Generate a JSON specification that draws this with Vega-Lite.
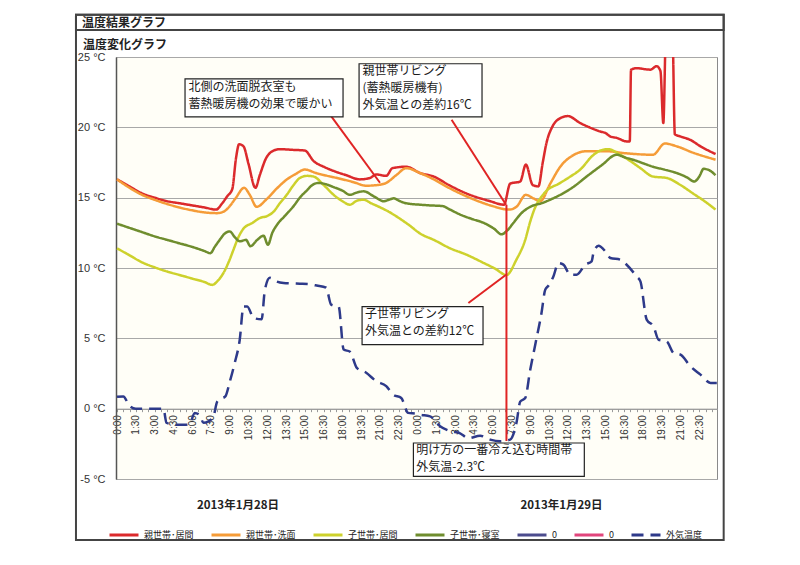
{
  "$schema": "https://vega.github.io/schema/vega-lite/v6.json",
  "width": 601,
  "height": 422,
  "autosize": "none",
  "padding": {"left": 116, "top": 57, "right": 83, "bottom": 86},
  "background": "white",
  "config": {
    "view": {"fill": "#fffef7", "stroke": "#8a8a8a", "strokeWidth": 1}
  },
  "datasets": {
    "frame": [
      {"h": -3.28, "h2": 48.45, "t": 28.0, "t2": -9.33},
      {"h": -3.28, "h2": 48.45, "t": 28.0, "t2": 26.92}
    ],
    "heads": [
      {"h": -2.8, "t": 27.45, "label": "温度結果グラフ"},
      {"h": -2.72, "t": 25.85, "label": "温度変化グラフ"}
    ],
    "series": [
      {"s": "親世帯・居間", "h": 0, "t": 16.3},
      {"s": "親世帯・居間", "h": 1, "t": 15.8},
      {"s": "親世帯・居間", "h": 2, "t": 15.3},
      {"s": "親世帯・居間", "h": 3, "t": 15.0},
      {"s": "親世帯・居間", "h": 4, "t": 14.75},
      {"s": "親世帯・居間", "h": 5, "t": 14.6},
      {"s": "親世帯・居間", "h": 6, "t": 14.45},
      {"s": "親世帯・居間", "h": 7, "t": 14.3},
      {"s": "親世帯・居間", "h": 7.9, "t": 14.15},
      {"s": "親世帯・居間", "h": 8.4, "t": 14.6},
      {"s": "親世帯・居間", "h": 8.8, "t": 15.1},
      {"s": "親世帯・居間", "h": 9.2, "t": 15.6},
      {"s": "親世帯・居間", "h": 9.5, "t": 17.8},
      {"s": "親世帯・居間", "h": 9.75, "t": 18.8},
      {"s": "親世帯・居間", "h": 10.1, "t": 18.65},
      {"s": "親世帯・居間", "h": 10.5, "t": 17.4},
      {"s": "親世帯・居間", "h": 11.05, "t": 15.7},
      {"s": "親世帯・居間", "h": 11.4, "t": 16.6},
      {"s": "親世帯・居間", "h": 11.9, "t": 17.8},
      {"s": "親世帯・居間", "h": 12.4, "t": 18.3},
      {"s": "親世帯・居間", "h": 13.0, "t": 18.45},
      {"s": "親世帯・居間", "h": 14.0, "t": 18.4},
      {"s": "親世帯・居間", "h": 15.0, "t": 18.35},
      {"s": "親世帯・居間", "h": 15.7, "t": 17.6},
      {"s": "親世帯・居間", "h": 16.5, "t": 17.2},
      {"s": "親世帯・居間", "h": 17.3, "t": 16.9},
      {"s": "親世帯・居間", "h": 18.3, "t": 16.6},
      {"s": "親世帯・居間", "h": 19.4, "t": 16.3},
      {"s": "親世帯・居間", "h": 20.2, "t": 16.4},
      {"s": "親世帯・居間", "h": 20.7, "t": 16.65},
      {"s": "親世帯・居間", "h": 21.5, "t": 16.55},
      {"s": "親世帯・居間", "h": 22.0, "t": 17.1},
      {"s": "親世帯・居間", "h": 23.1, "t": 17.2},
      {"s": "親世帯・居間", "h": 24.2, "t": 16.75},
      {"s": "親世帯・居間", "h": 25.3, "t": 16.5},
      {"s": "親世帯・居間", "h": 26.5, "t": 15.9},
      {"s": "親世帯・居間", "h": 27.9, "t": 15.3},
      {"s": "親世帯・居間", "h": 29.8, "t": 14.75},
      {"s": "親世帯・居間", "h": 30.9, "t": 14.5},
      {"s": "親世帯・居間", "h": 31.4, "t": 16.0},
      {"s": "親世帯・居間", "h": 32.2, "t": 16.15},
      {"s": "親世帯・居間", "h": 32.65, "t": 17.35},
      {"s": "親世帯・居間", "h": 33.2, "t": 15.9},
      {"s": "親世帯・居間", "h": 33.65, "t": 15.8},
      {"s": "親世帯・居間", "h": 34.0, "t": 17.5},
      {"s": "親世帯・居間", "h": 34.3, "t": 18.9},
      {"s": "親世帯・居間", "h": 34.8, "t": 20.1},
      {"s": "親世帯・居間", "h": 35.4, "t": 20.65},
      {"s": "親世帯・居間", "h": 36.0, "t": 20.8},
      {"s": "親世帯・居間", "h": 37.0, "t": 20.3},
      {"s": "親世帯・居間", "h": 38.0, "t": 19.9},
      {"s": "親世帯・居間", "h": 38.6, "t": 19.7},
      {"s": "親世帯・居間", "h": 39.0, "t": 19.6},
      {"s": "親世帯・居間", "h": 39.4, "t": 19.35},
      {"s": "親世帯・居間", "h": 39.9, "t": 19.25},
      {"s": "親世帯・居間", "h": 40.7, "t": 19.0},
      {"s": "親世帯・居間", "h": 40.95, "t": 19.0},
      {"s": "親世帯・居間", "h": 41.05, "t": 24.1},
      {"s": "親世帯・居間", "h": 41.5, "t": 24.2},
      {"s": "親世帯・居間", "h": 42.6, "t": 24.1},
      {"s": "親世帯・居間", "h": 43.1, "t": 24.35},
      {"s": "親世帯・居間", "h": 43.4, "t": 24.0},
      {"s": "親世帯・居間", "h": 43.63, "t": 20.3},
      {"s": "親世帯・居間", "h": 43.85, "t": 27},
      {"s": "親世帯・居間", "h": 44.35, "t": 27},
      {"s": "親世帯・居間", "h": 44.55, "t": 19.5},
      {"s": "親世帯・居間", "h": 45.0, "t": 19.35},
      {"s": "親世帯・居間", "h": 45.8, "t": 19.1},
      {"s": "親世帯・居間", "h": 46.6, "t": 18.65},
      {"s": "親世帯・居間", "h": 47.8, "t": 18.1},

      {"s": "親世帯・洗面", "h": 0, "t": 16.3},
      {"s": "親世帯・洗面", "h": 1, "t": 15.7},
      {"s": "親世帯・洗面", "h": 2, "t": 15.2},
      {"s": "親世帯・洗面", "h": 3, "t": 14.85},
      {"s": "親世帯・洗面", "h": 4, "t": 14.55},
      {"s": "親世帯・洗面", "h": 5, "t": 14.3},
      {"s": "親世帯・洗面", "h": 6, "t": 14.1},
      {"s": "親世帯・洗面", "h": 7, "t": 13.95},
      {"s": "親世帯・洗面", "h": 8, "t": 13.9},
      {"s": "親世帯・洗面", "h": 8.6, "t": 14.05},
      {"s": "親世帯・洗面", "h": 9.0, "t": 14.4},
      {"s": "親世帯・洗面", "h": 9.5, "t": 15.0},
      {"s": "親世帯・洗面", "h": 10.15, "t": 15.7},
      {"s": "親世帯・洗面", "h": 10.6, "t": 15.2},
      {"s": "親世帯・洗面", "h": 11.15, "t": 14.35},
      {"s": "親世帯・洗面", "h": 11.9, "t": 14.85},
      {"s": "親世帯・洗面", "h": 12.7, "t": 15.6},
      {"s": "親世帯・洗面", "h": 13.5, "t": 16.25},
      {"s": "親世帯・洗面", "h": 14.3, "t": 16.7},
      {"s": "親世帯・洗面", "h": 15.0, "t": 17.0},
      {"s": "親世帯・洗面", "h": 15.9, "t": 16.75},
      {"s": "親世帯・洗面", "h": 16.8, "t": 16.55},
      {"s": "親世帯・洗面", "h": 17.8, "t": 16.35},
      {"s": "親世帯・洗面", "h": 18.9, "t": 16.1},
      {"s": "親世帯・洗面", "h": 19.9, "t": 15.85},
      {"s": "親世帯・洗面", "h": 20.8, "t": 15.9},
      {"s": "親世帯・洗面", "h": 21.5, "t": 16.05},
      {"s": "親世帯・洗面", "h": 22.3, "t": 16.6},
      {"s": "親世帯・洗面", "h": 23.1, "t": 17.1},
      {"s": "親世帯・洗面", "h": 24.2, "t": 16.75},
      {"s": "親世帯・洗面", "h": 25.3, "t": 16.3},
      {"s": "親世帯・洗面", "h": 26.5, "t": 15.7},
      {"s": "親世帯・洗面", "h": 27.9, "t": 15.1},
      {"s": "親世帯・洗面", "h": 29.0, "t": 14.7},
      {"s": "親世帯・洗面", "h": 30.0, "t": 14.4},
      {"s": "親世帯・洗面", "h": 31.3, "t": 14.15},
      {"s": "親世帯・洗面", "h": 31.9, "t": 14.35},
      {"s": "親世帯・洗面", "h": 32.65, "t": 15.2},
      {"s": "親世帯・洗面", "h": 33.25, "t": 14.95},
      {"s": "親世帯・洗面", "h": 33.8, "t": 14.75},
      {"s": "親世帯・洗面", "h": 34.6, "t": 16.0},
      {"s": "親世帯・洗面", "h": 35.4, "t": 17.2},
      {"s": "親世帯・洗面", "h": 36.4, "t": 18.0},
      {"s": "親世帯・洗面", "h": 37.5, "t": 18.3},
      {"s": "親世帯・洗面", "h": 39.1, "t": 18.3},
      {"s": "親世帯・洗面", "h": 40.7, "t": 18.15},
      {"s": "親世帯・洗面", "h": 42.8, "t": 18.05},
      {"s": "親世帯・洗面", "h": 43.75, "t": 18.85},
      {"s": "親世帯・洗面", "h": 44.7, "t": 18.65},
      {"s": "親世帯・洗面", "h": 46.0, "t": 18.2},
      {"s": "親世帯・洗面", "h": 47.8, "t": 17.7},

      {"s": "子世帯・居間", "h": 0, "t": 11.4},
      {"s": "子世帯・居間", "h": 1, "t": 10.9},
      {"s": "子世帯・居間", "h": 2, "t": 10.4},
      {"s": "子世帯・居間", "h": 3, "t": 10.05},
      {"s": "子世帯・居間", "h": 4, "t": 9.75},
      {"s": "子世帯・居間", "h": 5, "t": 9.5},
      {"s": "子世帯・居間", "h": 6, "t": 9.25},
      {"s": "子世帯・居間", "h": 7, "t": 9.0},
      {"s": "子世帯・居間", "h": 7.6, "t": 8.8},
      {"s": "子世帯・居間", "h": 8.0, "t": 9.05},
      {"s": "子世帯・居間", "h": 8.5, "t": 9.65},
      {"s": "子世帯・居間", "h": 9.0, "t": 10.6},
      {"s": "子世帯・居間", "h": 9.3, "t": 11.3},
      {"s": "子世帯・居間", "h": 9.7, "t": 12.2},
      {"s": "子世帯・居間", "h": 10.1, "t": 12.8},
      {"s": "子世帯・居間", "h": 10.8, "t": 13.2},
      {"s": "子世帯・居間", "h": 11.4, "t": 13.55},
      {"s": "子世帯・居間", "h": 12.0, "t": 13.7},
      {"s": "子世帯・居間", "h": 12.5, "t": 14.0},
      {"s": "子世帯・居間", "h": 13.0, "t": 14.6},
      {"s": "子世帯・居間", "h": 13.55, "t": 15.2},
      {"s": "子世帯・居間", "h": 14.1, "t": 15.9},
      {"s": "子世帯・居間", "h": 14.6, "t": 16.4},
      {"s": "子世帯・居間", "h": 15.2, "t": 16.55},
      {"s": "子世帯・居間", "h": 15.7, "t": 16.5},
      {"s": "子世帯・居間", "h": 16.5, "t": 15.9},
      {"s": "子世帯・居間", "h": 17.3, "t": 15.2},
      {"s": "子世帯・居間", "h": 18.0, "t": 14.75},
      {"s": "子世帯・居間", "h": 18.6, "t": 14.5},
      {"s": "子世帯・居間", "h": 19.2, "t": 14.8},
      {"s": "子世帯・居間", "h": 19.7, "t": 14.85},
      {"s": "子世帯・居間", "h": 20.3, "t": 14.6},
      {"s": "子世帯・居間", "h": 20.8, "t": 14.4},
      {"s": "子世帯・居間", "h": 21.7, "t": 14.0},
      {"s": "子世帯・居間", "h": 22.6, "t": 13.5},
      {"s": "子世帯・居間", "h": 23.4, "t": 13.0},
      {"s": "子世帯・居間", "h": 24.2, "t": 12.45},
      {"s": "子世帯・居間", "h": 25.3, "t": 12.0},
      {"s": "子世帯・居間", "h": 26.6, "t": 11.4},
      {"s": "子世帯・居間", "h": 27.9, "t": 10.95},
      {"s": "子世帯・居間", "h": 29.3, "t": 10.35},
      {"s": "子世帯・居間", "h": 30.2, "t": 9.95},
      {"s": "子世帯・居間", "h": 31.1, "t": 9.5},
      {"s": "子世帯・居間", "h": 31.9, "t": 10.6},
      {"s": "子世帯・居間", "h": 32.6, "t": 12.0},
      {"s": "子世帯・居間", "h": 33.0, "t": 13.3},
      {"s": "子世帯・居間", "h": 33.3, "t": 14.1},
      {"s": "子世帯・居間", "h": 34.1, "t": 15.3},
      {"s": "子世帯・居間", "h": 35.4, "t": 16.05},
      {"s": "子世帯・居間", "h": 36.2, "t": 16.5},
      {"s": "子世帯・居間", "h": 37.0, "t": 17.0},
      {"s": "子世帯・居間", "h": 38.0, "t": 18.0},
      {"s": "子世帯・居間", "h": 38.6, "t": 18.35},
      {"s": "子世帯・居間", "h": 39.2, "t": 18.45},
      {"s": "子世帯・居間", "h": 40.2, "t": 18.05},
      {"s": "子世帯・居間", "h": 41.0, "t": 17.6},
      {"s": "子世帯・居間", "h": 41.8, "t": 17.1},
      {"s": "子世帯・居間", "h": 42.8, "t": 16.5},
      {"s": "子世帯・居間", "h": 43.9, "t": 16.4},
      {"s": "子世帯・居間", "h": 45.0, "t": 15.9},
      {"s": "子世帯・居間", "h": 46.0, "t": 15.3},
      {"s": "子世帯・居間", "h": 47.0, "t": 14.7},
      {"s": "子世帯・居間", "h": 47.8, "t": 14.15},

      {"s": "子世帯・寝室", "h": 0, "t": 13.15},
      {"s": "子世帯・寝室", "h": 1, "t": 12.85},
      {"s": "子世帯・寝室", "h": 2, "t": 12.55},
      {"s": "子世帯・寝室", "h": 3, "t": 12.25},
      {"s": "子世帯・寝室", "h": 4, "t": 12.0},
      {"s": "子世帯・寝室", "h": 5, "t": 11.75},
      {"s": "子世帯・寝室", "h": 6, "t": 11.5},
      {"s": "子世帯・寝室", "h": 7, "t": 11.2},
      {"s": "子世帯・寝室", "h": 7.45, "t": 11.05},
      {"s": "子世帯・寝室", "h": 7.8, "t": 11.5},
      {"s": "子世帯・寝室", "h": 8.2, "t": 12.0},
      {"s": "子世帯・寝室", "h": 8.6, "t": 12.45},
      {"s": "子世帯・寝室", "h": 9.0, "t": 12.6},
      {"s": "子世帯・寝室", "h": 9.4, "t": 12.2},
      {"s": "子世帯・寝室", "h": 9.8, "t": 11.9},
      {"s": "子世帯・寝室", "h": 10.3, "t": 12.0},
      {"s": "子世帯・寝室", "h": 10.65, "t": 11.55},
      {"s": "子世帯・寝室", "h": 11.2, "t": 12.0},
      {"s": "子世帯・寝室", "h": 11.7, "t": 12.3},
      {"s": "子世帯・寝室", "h": 12.05, "t": 11.65},
      {"s": "子世帯・寝室", "h": 12.4, "t": 12.5},
      {"s": "子世帯・寝室", "h": 12.8, "t": 13.1},
      {"s": "子世帯・寝室", "h": 13.4, "t": 13.7},
      {"s": "子世帯・寝室", "h": 14.1, "t": 14.4},
      {"s": "子世帯・寝室", "h": 14.6, "t": 15.0},
      {"s": "子世帯・寝室", "h": 15.2, "t": 15.55},
      {"s": "子世帯・寝室", "h": 15.6, "t": 15.9},
      {"s": "子世帯・寝室", "h": 16.1, "t": 16.05},
      {"s": "子世帯・寝室", "h": 16.7, "t": 15.95},
      {"s": "子世帯・寝室", "h": 17.3, "t": 15.75},
      {"s": "子世帯・寝室", "h": 18.0, "t": 15.5},
      {"s": "子世帯・寝室", "h": 18.6, "t": 15.2},
      {"s": "子世帯・寝室", "h": 19.1, "t": 15.35},
      {"s": "子世帯・寝室", "h": 19.7, "t": 15.45},
      {"s": "子世帯・寝室", "h": 20.5, "t": 15.1},
      {"s": "子世帯・寝室", "h": 21.3, "t": 14.75},
      {"s": "子世帯・寝室", "h": 21.7, "t": 14.85},
      {"s": "子世帯・寝室", "h": 22.1, "t": 14.95},
      {"s": "子世帯・寝室", "h": 22.6, "t": 14.75},
      {"s": "子世帯・寝室", "h": 23.1, "t": 14.6},
      {"s": "子世帯・寝室", "h": 24.2, "t": 14.5},
      {"s": "子世帯・寝室", "h": 25.0, "t": 14.45},
      {"s": "子世帯・寝室", "h": 26.0, "t": 14.4},
      {"s": "子世帯・寝室", "h": 26.6, "t": 14.15},
      {"s": "子世帯・寝室", "h": 27.4, "t": 13.8},
      {"s": "子世帯・寝室", "h": 28.3, "t": 13.5},
      {"s": "子世帯・寝室", "h": 29.3, "t": 13.2},
      {"s": "子世帯・寝室", "h": 30.1, "t": 12.8},
      {"s": "子世帯・寝室", "h": 30.7, "t": 12.4},
      {"s": "子世帯・寝室", "h": 31.2, "t": 12.7},
      {"s": "子世帯・寝室", "h": 31.65, "t": 13.2},
      {"s": "子世帯・寝室", "h": 32.3, "t": 13.9},
      {"s": "子世帯・寝室", "h": 33.0, "t": 14.35},
      {"s": "子世帯・寝室", "h": 34.05, "t": 14.65},
      {"s": "子世帯・寝室", "h": 34.7, "t": 14.9},
      {"s": "子世帯・寝室", "h": 35.4, "t": 15.2},
      {"s": "子世帯・寝室", "h": 36.5, "t": 15.8},
      {"s": "子世帯・寝室", "h": 37.5, "t": 16.5},
      {"s": "子世帯・寝室", "h": 38.7, "t": 17.3},
      {"s": "子世帯・寝室", "h": 39.9, "t": 18.05},
      {"s": "子世帯・寝室", "h": 40.6, "t": 17.85},
      {"s": "子世帯・寝室", "h": 41.2, "t": 17.7},
      {"s": "子世帯・寝室", "h": 42.0, "t": 17.45},
      {"s": "子世帯・寝室", "h": 42.8, "t": 17.2},
      {"s": "子世帯・寝室", "h": 43.7, "t": 17.0},
      {"s": "子世帯・寝室", "h": 44.7, "t": 16.75},
      {"s": "子世帯・寝室", "h": 45.5, "t": 16.45},
      {"s": "子世帯・寝室", "h": 46.1, "t": 16.15},
      {"s": "子世帯・寝室", "h": 46.5, "t": 16.5},
      {"s": "子世帯・寝室", "h": 46.85, "t": 17.05},
      {"s": "子世帯・寝室", "h": 47.3, "t": 16.95},
      {"s": "子世帯・寝室", "h": 47.8, "t": 16.6},

      {"s": "外気温度", "h": 0, "t": 0.85},
      {"s": "外気温度", "h": 0.5, "t": 0.87},
      {"s": "外気温度", "h": 1.0, "t": 0.2},
      {"s": "外気温度", "h": 1.5, "t": 0},
      {"s": "外気温度", "h": 2.5, "t": 0},
      {"s": "外気温度", "h": 3.5, "t": 0},
      {"s": "外気温度", "h": 3.7, "t": 0},
      {"s": "外気温度", "h": 3.95, "t": -1.0},
      {"s": "外気温度", "h": 4.3, "t": -1.1},
      {"s": "外気温度", "h": 4.8, "t": -1.15},
      {"s": "外気温度", "h": 5.4, "t": -1.15},
      {"s": "外気温度", "h": 5.8, "t": -1.1},
      {"s": "外気温度", "h": 6.2, "t": -0.3},
      {"s": "外気温度", "h": 6.6, "t": -0.45},
      {"s": "外気温度", "h": 6.9, "t": -1.0},
      {"s": "外気温度", "h": 7.3, "t": -0.9},
      {"s": "外気温度", "h": 7.7, "t": -0.55},
      {"s": "外気温度", "h": 8.0, "t": 0.5},
      {"s": "外気温度", "h": 8.3, "t": 0.7},
      {"s": "外気温度", "h": 8.65, "t": 0.87},
      {"s": "外気温度", "h": 9.0, "t": 1.9},
      {"s": "外気温度", "h": 9.4, "t": 3.25},
      {"s": "外気温度", "h": 9.8, "t": 4.9},
      {"s": "外気温度", "h": 10.1, "t": 7.27},
      {"s": "外気温度", "h": 10.4, "t": 7.27},
      {"s": "外気温度", "h": 10.9, "t": 6.45},
      {"s": "外気温度", "h": 11.55, "t": 6.35},
      {"s": "外気温度", "h": 11.8, "t": 8.4},
      {"s": "外気温度", "h": 12.2, "t": 9.3},
      {"s": "外気温度", "h": 12.7, "t": 9.05},
      {"s": "外気温度", "h": 13.3, "t": 8.93},
      {"s": "外気温度", "h": 14.0, "t": 8.9},
      {"s": "外気温度", "h": 14.6, "t": 8.88},
      {"s": "外気温度", "h": 15.3, "t": 8.85},
      {"s": "外気温度", "h": 15.95, "t": 8.75},
      {"s": "外気温度", "h": 16.7, "t": 8.6},
      {"s": "外気温度", "h": 17.1, "t": 7.4},
      {"s": "外気温度", "h": 17.7, "t": 7.25},
      {"s": "外気温度", "h": 18.1, "t": 4.2},
      {"s": "外気温度", "h": 18.6, "t": 4.05},
      {"s": "外気温度", "h": 19.15, "t": 2.9},
      {"s": "外気温度", "h": 19.9, "t": 2.55},
      {"s": "外気温度", "h": 20.7, "t": 1.95},
      {"s": "外気温度", "h": 21.5, "t": 1.6},
      {"s": "外気温度", "h": 22.05, "t": 1.0},
      {"s": "外気温度", "h": 22.7, "t": 0.76},
      {"s": "外気温度", "h": 23.25, "t": -0.3},
      {"s": "外気温度", "h": 23.9, "t": -0.36},
      {"s": "外気温度", "h": 24.2, "t": -0.43},
      {"s": "外気温度", "h": 25.0, "t": -0.55},
      {"s": "外気温度", "h": 25.8, "t": -1.25},
      {"s": "外気温度", "h": 26.6, "t": -1.6},
      {"s": "外気温度", "h": 27.4, "t": -1.75},
      {"s": "外気温度", "h": 28.05, "t": -2.1},
      {"s": "外気温度", "h": 29.0, "t": -1.92},
      {"s": "外気温度", "h": 29.8, "t": -2.2},
      {"s": "外気温度", "h": 30.6, "t": -2.32},
      {"s": "外気温度", "h": 31.4, "t": -2.2},
      {"s": "外気温度", "h": 31.9, "t": -1.0},
      {"s": "外気温度", "h": 32.2, "t": 0.5},
      {"s": "外気温度", "h": 32.6, "t": 0.76},
      {"s": "外気温度", "h": 33.0, "t": 2.77},
      {"s": "外気温度", "h": 33.4, "t": 4.55},
      {"s": "外気温度", "h": 33.9, "t": 6.8},
      {"s": "外気温度", "h": 34.2, "t": 8.46},
      {"s": "外気温度", "h": 34.45, "t": 8.74},
      {"s": "外気温度", "h": 34.85, "t": 9.4},
      {"s": "外気温度", "h": 35.25, "t": 10.35},
      {"s": "外気温度", "h": 35.65, "t": 10.24},
      {"s": "外気温度", "h": 36.2, "t": 9.52},
      {"s": "外気温度", "h": 36.7, "t": 9.52},
      {"s": "外気温度", "h": 37.4, "t": 10.24},
      {"s": "外気温度", "h": 37.9, "t": 10.47},
      {"s": "外気温度", "h": 38.05, "t": 11.07},
      {"s": "外気温度", "h": 38.45, "t": 11.58},
      {"s": "外気温度", "h": 39.0, "t": 11.18},
      {"s": "外気温度", "h": 39.4, "t": 10.71},
      {"s": "外気温度", "h": 40.2, "t": 10.59},
      {"s": "外気温度", "h": 40.7, "t": 10.23},
      {"s": "外気温度", "h": 41.5, "t": 9.4},
      {"s": "外気温度", "h": 41.8, "t": 9.05},
      {"s": "外気温度", "h": 42.3, "t": 6.33},
      {"s": "外気温度", "h": 42.85, "t": 5.85},
      {"s": "外気温度", "h": 43.25, "t": 4.9},
      {"s": "外気温度", "h": 43.9, "t": 4.78},
      {"s": "外気温度", "h": 44.45, "t": 3.96},
      {"s": "外気温度", "h": 45.0, "t": 3.84},
      {"s": "外気温度", "h": 45.8, "t": 3.0},
      {"s": "外気温度", "h": 46.6, "t": 2.42},
      {"s": "外気温度", "h": 47.4, "t": 1.83},
      {"s": "外気温度", "h": 47.9, "t": 1.83}
    ],
    "leaders": [
      {"h": 16.85, "t": 21.1, "h2": 21.0, "t2": 16.06},
      {"h": 26.72, "t": 20.54, "h2": 31.07, "t2": 14.5},
      {"h": 28.06, "t": 7.51, "h2": 31.07, "t2": 9.52},
      {"h": 31.1, "t": 14.5, "h2": 31.1, "t2": -2.3}
    ],
    "boxes": [
      {"h": 5.43, "h2": 18.05, "t": 23.45, "t2": 20.75},
      {"h": 19.33, "h2": 29.15, "t": 24.52, "t2": 20.75},
      {"h": 19.57, "h2": 29.23, "t": 7.25, "t2": 4.55},
      {"h": 23.67, "h2": 37.32, "t": -2.44, "t2": -4.81}
    ],
    "notes": [
      {"h": 5.7, "t": 23.25, "label": "北側の洗面脱衣室も\n蓄熱暖房機の効果で暖かい"},
      {"h": 19.6, "t": 24.35, "label": "親世帯リビング\n(蓄熱暖房機有)\n外気温との差約16℃"},
      {"h": 19.8, "t": 7.05, "label": "子世帯リビング\n外気温との差約12℃"},
      {"h": 23.9, "t": -2.6, "label": "明け方の一番冷え込む時間帯\n外気温-2.3℃"}
    ],
    "dates": [
      {"h": 9.66, "t": -6.9, "label": "2013年1月28日"},
      {"h": 35.5, "t": -6.9, "label": "2013年1月29日"}
    ]
  },
  "encoding": {
    "x": {
      "field": "h",
      "type": "quantitative",
      "scale": {"domain": [-0.0833, 47.9167], "nice": false, "zero": false},
      "axis": {
        "title": null,
        "offset": -70.33,
        "values": [0, 0.5, 1, 1.5, 2, 2.5, 3, 3.5, 4, 4.5, 5, 5.5, 6, 6.5, 7, 7.5, 8, 8.5, 9, 9.5, 10, 10.5, 11, 11.5, 12, 12.5, 13, 13.5, 14, 14.5, 15, 15.5, 16, 16.5, 17, 17.5, 18, 18.5, 19, 19.5, 20, 20.5, 21, 21.5, 22, 22.5, 23, 23.5, 24, 24.5, 25, 25.5, 26, 26.5, 27, 27.5, 28, 28.5, 29, 29.5, 30, 30.5, 31, 31.5, 32, 32.5, 33, 33.5, 34, 34.5, 35, 35.5, 36, 36.5, 37, 37.5, 38, 38.5, 39, 39.5, 40, 40.5, 41, 41.5, 42, 42.5, 43, 43.5, 44, 44.5, 45, 45.5, 46, 46.5, 47, 47.5],
        "labelExpr": "datum.value % 1.5 == 0 ? floor(datum.value % 24) + ':' + (datum.value % 1 == 0 ? '00' : '30') : ''",
        "labelAngle": -90,
        "labelFont": "Liberation Sans",
        "labelFontSize": 10,
        "labelColor": "#333",
        "labelPadding": 3,
        "labelOverlap": false,
        "labelBound": false,
        "labelFlush": false,
        "domainColor": "#9a9a9a",
        "tickColor": "#9a9a9a",
        "tickSize": 3,
        "grid": false
      }
    },
    "y": {
      "field": "t",
      "type": "quantitative",
      "scale": {"domain": [-5, 25], "nice": false, "zero": false},
      "axis": {
        "title": null,
        "values": [-5, 0, 5, 10, 15, 20, 25],
        "labelExpr": "datum.value + ' °C'",
        "labelFont": "Liberation Sans",
        "labelFontSize": 11,
        "labelColor": "#333",
        "labelPadding": 11,
        "ticks": false,
        "domainColor": "#555",
        "domainWidth": 1.5,
        "grid": true,
        "gridColor": "#a8a8a8",
        "gridWidth": 1
      }
    }
  },
  "layer": [
    {
      "data": {"name": "frame"},
      "mark": {"type": "rect", "fill": null, "stroke": "#444", "strokeWidth": 2},
      "encoding": {"x2": {"field": "h2"}, "y2": {"field": "t2"}}
    },
    {
      "data": {"name": "heads"},
      "mark": {"type": "text", "align": "left", "baseline": "middle", "font": "Noto Sans CJK JP", "fontSize": 12, "fontWeight": "bold", "color": "#222"},
      "encoding": {"text": {"field": "label"}}
    },
    {
      "data": {"name": "series"},
      "mark": {"type": "line", "strokeWidth": 2.5, "interpolate": "monotone", "clip": true},
      "encoding": {
        "color": {
          "field": "s",
          "type": "nominal",
          "sort": null,
          "scale": {
            "domain": ["親世帯・居間", "親世帯・洗面", "子世帯・居間", "子世帯・寝室", "0", "0 ", "外気温度"],
            "range": ["#db2a2c", "#f59c38", "#cdd12c", "#6f8d2e", "#4c4c8e", "#e1457c", "#2e3a8a"]
          },
          "legend": {
            "title": null,
            "orient": "none",
            "legendX": -8,
            "legendY": 462,
            "direction": "horizontal",
            "columns": 7,
            "columnPadding": 11,
            "symbolType": "stroke",
            "symbolSize": 841,
            "symbolStrokeWidth": 3,
            "labelExpr": "replace(datum.label, '・', '･')",
            "labelFont": "Noto Sans CJK JP",
            "labelFontSize": 9,
            "labelColor": "#222",
            "labelOffset": 4
          }
        },
        "strokeDash": {
          "field": "s",
          "type": "nominal",
          "sort": null,
          "scale": {
            "domain": ["親世帯・居間", "親世帯・洗面", "子世帯・居間", "子世帯・寝室", "0", "0 ", "外気温度"],
            "range": [[1, 0], [1, 0], [1, 0], [1, 0], [1, 0], [1, 0], [12, 7]]
          },
          "legend": {
            "title": null,
            "orient": "none",
            "legendX": -8,
            "legendY": 462,
            "direction": "horizontal",
            "columns": 7,
            "columnPadding": 11,
            "symbolType": "stroke",
            "symbolSize": 841,
            "symbolStrokeWidth": 3,
            "labelExpr": "replace(datum.label, '・', '･')",
            "labelFont": "Noto Sans CJK JP",
            "labelFontSize": 9,
            "labelColor": "#222",
            "labelOffset": 4
          }
        }
      }
    },
    {
      "data": {"name": "leaders"},
      "mark": {"type": "rule", "color": "#e02424", "strokeWidth": 2},
      "encoding": {"x2": {"field": "h2"}, "y2": {"field": "t2"}}
    },
    {
      "data": {"name": "boxes"},
      "mark": {"type": "rect", "fill": "white", "stroke": "#222", "strokeWidth": 1.2},
      "encoding": {"x2": {"field": "h2"}, "y2": {"field": "t2"}}
    },
    {
      "data": {"name": "notes"},
      "mark": {"type": "text", "align": "left", "baseline": "top", "lineBreak": "\n", "lineHeight": 17, "font": "Noto Sans CJK JP", "fontSize": 12, "color": "#1a1a1a"},
      "encoding": {"text": {"field": "label"}}
    },
    {
      "data": {"name": "dates"},
      "mark": {"type": "text", "align": "center", "baseline": "middle", "font": "Noto Sans CJK JP", "fontSize": 11.5, "fontWeight": "bold", "color": "#222"},
      "encoding": {"text": {"field": "label"}}
    }
  ]
}
